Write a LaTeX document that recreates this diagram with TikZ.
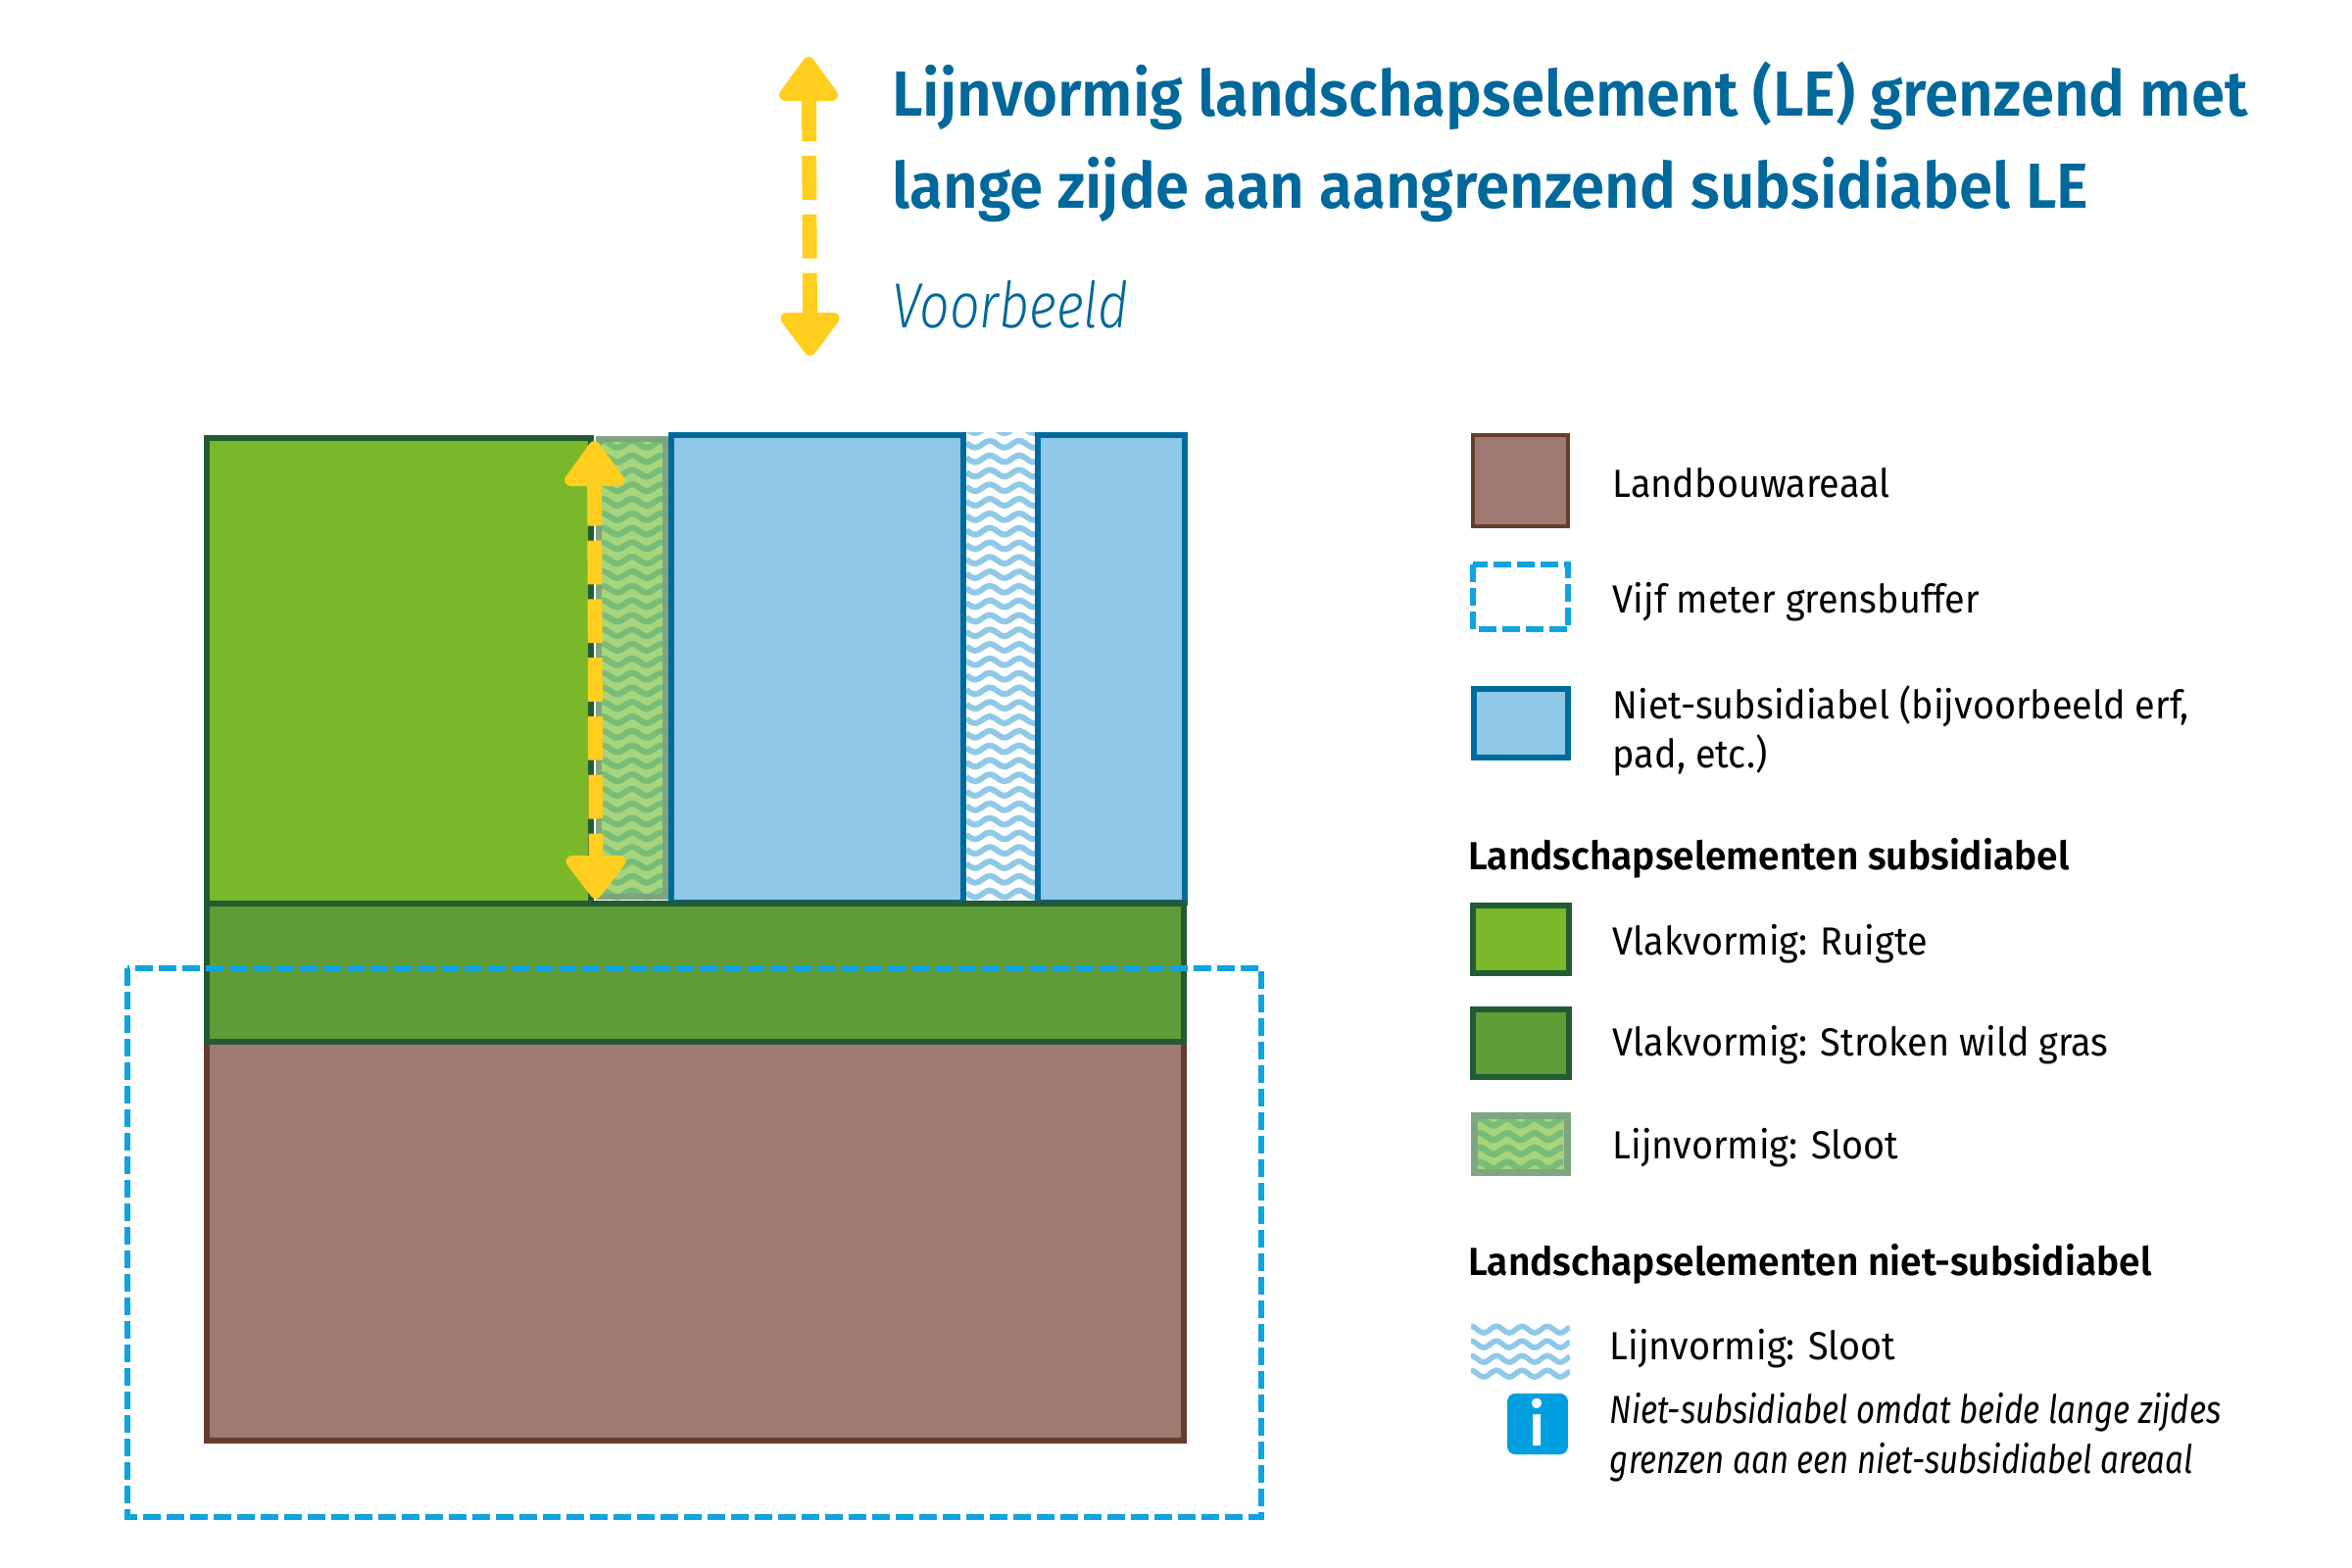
\documentclass[tikz,border=0pt]{standalone}
\usepackage{fontspec}
\usetikzlibrary{calc}
\setmainfont{Fira Sans}[FakeStretch=0.945,ItalicFeatures={FakeStretch=0.825}]
\newfontfamily\titlef{Fira Sans SemiBold}[FakeStretch=0.951]
\newfontfamily\legbf{Fira Sans SemiBold}[FakeStretch=0.972]
\newfontfamily\subf{Fira Sans Light}[FakeStretch=0.83]
\definecolor{ruigte}{HTML}{7AB829}
\definecolor{darkgr}{HTML}{235A33}
\definecolor{wild}{HTML}{5F9C38}
\definecolor{brownf}{HTML}{9E7A72}
\definecolor{browns}{HTML}{683C2D}
\definecolor{bluef}{HTML}{90C9E7}
\definecolor{blues}{HTML}{006A9C}
\definecolor{buffer}{HTML}{0FA3DF}
\definecolor{yel}{HTML}{FFCE1F}
\definecolor{titlec}{HTML}{01689B}
\definecolor{ditchf}{HTML}{A7D57C}
\definecolor{ditchw}{HTML}{78BC78}
\definecolor{ditchs}{HTML}{7C9F83}
\definecolor{infoc}{HTML}{00A0E0}
\tikzset{
 x=0.5pt,y=-0.5pt,
 boxbrown/.style={fill=brownf,draw=browns,line width=2pt},
 boxblue/.style={fill=bluef,draw=blues,line width=3pt},
 boxgreen/.style={fill=ruigte,draw=darkgr,line width=3pt},
 boxwild/.style={fill=wild,draw=darkgr,line width=3pt},
 ditchedge/.style={draw=ditchs,line width=3pt,draw opacity=0.88},
 bufferline/.style={draw=buffer,line width=3pt,dash pattern=on 9pt off 3pt},
 lab/.style={anchor=base west,inner sep=0pt,font=\fontsize{20}{24}\selectfont,text=black},
 labbold/.style={lab,font=\legbf\fontsize{20}{24}\selectfont},
 labit/.style={lab,font=\fontsize{20}{24}\selectfont\itshape},
 heading/.style={anchor=base west,inner sep=0pt,font=\titlef\fontsize{32.5}{38}\selectfont,text=titlec},
 subheading/.style={anchor=base west,inner sep=0pt,font=\subf\fontsize{32.5}{38}\selectfont\itshape,text=titlec},
 arrowshaft/.style={draw=yel,line width=7.4pt,dash pattern=on 22.4pt off 7.5pt},
 arrowhead/.style={fill=yel,draw=yel,line width=6pt,line join=round},
 infobox/.style={anchor=center,fill=infoc,rounded corners=4pt,minimum width=30.9pt,minimum height=31.1pt,inner sep=0pt},
 infoi/.style={anchor=base,inner sep=0pt,text=white,font=\titlef\fontsize{30}{30}\selectfont},
}
% clip x0,x1,ytop,ybot; first row y, spacing, last index, colour, wavelength; \wavephase = x of a crest; \wavethick
\newcommand{\wavephase}{0}
\newcommand{\wavethick}{2.7pt}
\newcommand{\wavestrip}[9]{%
 \begin{scope}
 \clip (#1,#3) rectangle (#2,#4);
 \foreach \i in {0,...,#7}{
  \draw[line width=\wavethick,draw=#8] plot[domain=#1:#2,samples=40,smooth] (\x,{#5+\i*#6-3.4*cos(360*((\x-\wavephase)/#9))});
 }
 \end{scope}}
\begin{document}
\begin{tikzpicture}
\useasboundingbox (0,0) rectangle (2400,1600);
\fill[white] (0,0) rectangle (2400,1600);

% ditch (subsidiabel)
\fill[ditchf] (607.5,445) rectangle (682,918);
\renewcommand{\wavephase}{645}
\renewcommand{\wavethick}{3pt}
\wavestrip{607.5}{682}{445}{918}{438.5}{14.8}{32}{ditchw}{30}
\draw[ditchedge] (610.5,448) rectangle (679,915);

% ruigte
\fill[ruigte] (211,447) rectangle (603,921);
\draw[darkgr,line width=3pt] (603,921) -- (603,447) -- (211,447) -- (211,921);
\draw[white,line width=0.7pt] (606.8,444) -- (606.8,920);

% blue
\draw[boxblue] (685,444) rectangle (1208.7,921);
\fill[white] (986,438) rectangle (1056,921);
\renewcommand{\wavephase}{1010}
\renewcommand{\wavethick}{3pt}
\wavestrip{986}{1056}{441}{919}{438.5}{14.8}{32}{bluef}{30}
\draw[blues,line width=3pt] (983,441) -- (983,921) (1059,441) -- (1059,921);

% strip and brown
\draw[boxbrown,line width=3pt] (211,1063) rectangle (1207.5,1470);
\draw[boxwild] (211,921.5) rectangle (1208,1063);

% buffer
\draw[bufferline] (130,988) rectangle (1287,1548);

% main arrow
\coordinate (mA) at (606.6,456);
\coordinate (mB) at (608,911);
\coordinate (mS) at (606.6,491.7);
\coordinate (mE) at (608,880);
\fill[arrowhead] (mA) -- ++(-24.5,34) -- ++(49,0) -- cycle;
\fill[arrowhead] (mB) -- ++(-24.5,-32) -- ++(49,0) -- cycle;
\draw[arrowshaft] (mS) -- (mE);

% title arrow
\coordinate (tA) at (825,64);
\coordinate (tB) at (826.5,357);
\coordinate (tS) at (825.5,99.3);
\coordinate (tE) at (826.5,325);
\fill[arrowhead] (tA) -- ++(-24,33) -- ++(48,0) -- cycle;
\fill[arrowhead] (tB) -- ++(-24,-32) -- ++(48,0) -- cycle;
\draw[arrowshaft] (tS) -- (tE);

% title
\node[heading] (t1) at (910,118.5) {Lijnvormig landschapselement (LE) grenzend met};
\node[heading] (t2) at (910,212.5) {lange zijde aan aangrenzend subsidiabel LE};
\node[subheading] (t3) at (910,334) {Voorbeeld};

% legend
\draw[boxbrown] (1503,444) rectangle (1600,537);
\node[lab] (l1) at (1645.4,507.5) {Landbouwareaal};
\draw[bufferline] (1503,575.7) rectangle (1600.3,642);
\node[lab] (l2) at (1645.4,625.7) {Vijf meter grensbuffer};
\draw[boxblue] (1503.7,703) rectangle (1599.7,773);
\node[lab] (l3) at (1645.4,733.2) {Niet-subsidiabel (bijvoorbeeld erf,};
\node[lab] (l3b) at (1645.4,783.9) {pad, etc.)};
\node[labbold] (h1) at (1498,887.4) {Landschapselementen subsidiabel};
\draw[boxgreen] (1503,924) rectangle (1601,993);
\node[lab] (l4) at (1645.4,974.9) {Vlakvormig: Ruigte};
\draw[boxwild] (1503,1030) rectangle (1601,1099);
\node[lab] (l5) at (1645.4,1077.4) {Vlakvormig: Stroken wild gras};
\fill[ditchf] (1501,1135) rectangle (1602.7,1200);
\renewcommand{\wavephase}{1538}
\renewcommand{\wavethick}{3.2pt}
\wavestrip{1508}{1595}{1140}{1194}{1145}{14.7}{3}{ditchw}{28}
\draw[ditchedge,line width=3.5pt] (1504.5,1138.5) rectangle (1599,1196.5);
\node[lab] (l6) at (1645.4,1182.8) {Lijnvormig: Sloot};
\node[labbold] (h2) at (1498,1301.3) {Landschapselementen niet-subsidiabel};
\renewcommand{\wavephase}{1527}
\renewcommand{\wavethick}{2.8pt}
\wavestrip{1501}{1602}{1350}{1410}{1356.7}{15}{3}{bluef}{26}
\node[lab] (l7) at (1642.5,1387.8) {Lijnvormig: Sloot};
\node[infobox] (info) at (1569,1453) {};
\node[infoi] (infoi) at (1569,1475) {i};
\node[labit] (n1) at (1642.5,1452.4) {Niet-subsidiabel omdat beide lange zijdes};
\node[labit] (n2) at (1642.5,1503.2) {grenzen aan een niet-subsidiabel areaal};
\end{tikzpicture}
\end{document}
